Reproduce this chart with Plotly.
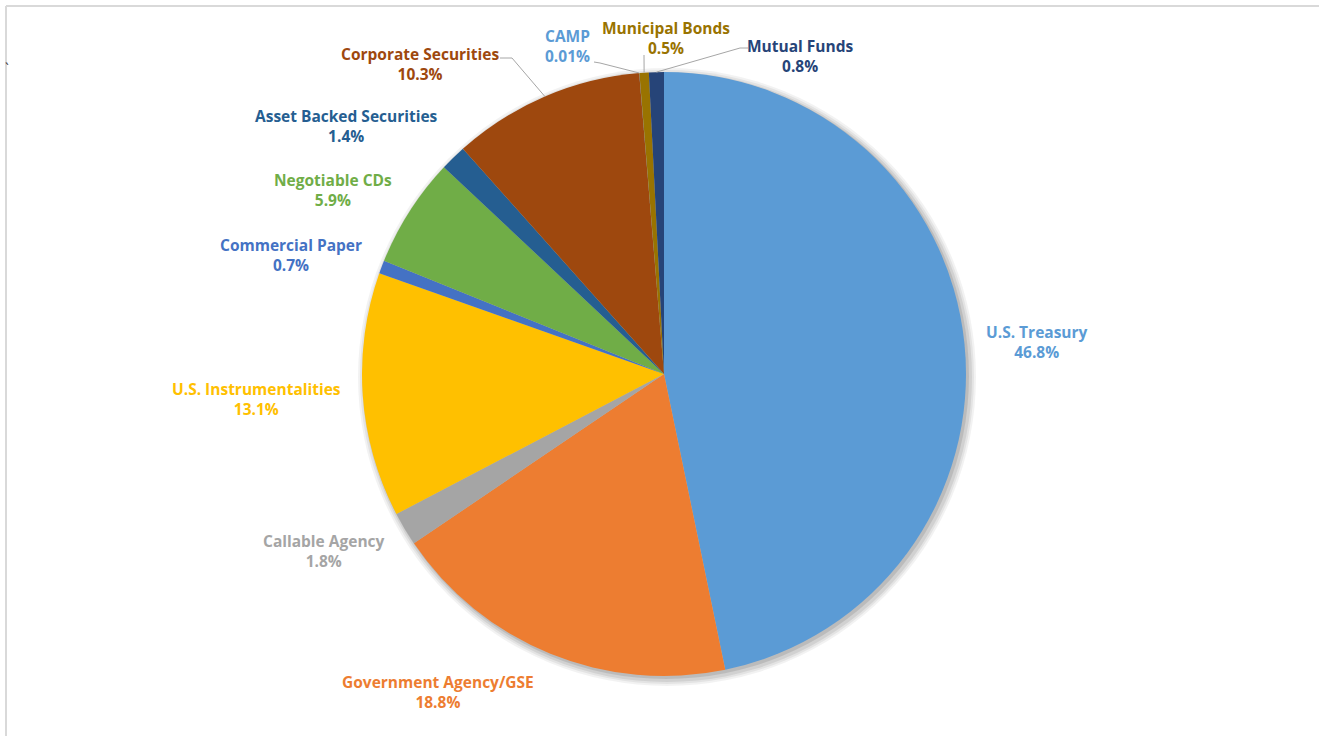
import math
import plotly.graph_objects as go

# ---- data ----
categories = ["U.S. Treasury", "Government Agency/GSE", "Callable Agency",
              "U.S. Instrumentalities", "Commercial Paper", "Negotiable CDs",
              "Asset Backed Securities", "Corporate Securities", "CAMP",
              "Municipal Bonds", "Mutual Funds"]
values = [46.8, 18.8, 1.8, 13.1, 0.7, 5.9, 1.4, 10.3, 0.01, 0.5, 0.8]
pct_labels = ["46.8%", "18.8%", "1.8%", "13.1%", "0.7%", "5.9%", "1.4%",
              "10.3%", "0.01%", "0.5%", "0.8%"]

# ---- styles / layout ----
colors = ["#5B9BD5", "#ED7D31", "#A5A5A5", "#FFC000", "#4472C4", "#70AD47",
          "#255E91", "#9E480E", "#5B9BD5", "#997300", "#264478"]
W, H = 1319, 736
CX, CY, R = 664, 374, 302
# label centre positions (px) for the label text block
label_pos = [(1037, 342), (438, 692), (324, 551), (256, 399), (291, 255),
             (333, 190), (346, 126), (420, 64), (567, 46), (666, 38), (800, 56)]
# leader line starts (px) for labels that have one: index -> list of points
leader_start = {7: [(500, 58), (512, 58)], 8: [(594, 62), (600, 63)],
                9: [(644, 55)], 10: [(748, 48), (740, 48)]}
FONT = "Open Sans"
FS = 15.5


def px(x):
    return x / W


def py(y):
    return 1 - y / H


fig = go.Figure()
fig.add_trace(go.Pie(
    labels=categories, values=values, sort=False, direction="clockwise",
    rotation=0, textinfo="none", hoverinfo="label+percent",
    marker=dict(colors=colors, line=dict(width=0)),
    domain=dict(x=[px(CX - R), px(CX + R)], y=[py(CY + R), py(CY - R)]),
    showlegend=False,
))

shapes = []
# soft shadow behind pie
for off, grow, op in [(3, 7, 0.05), (3, 5, 0.06), (3, 3, 0.08), (2, 1, 0.10)]:
    shapes.append(dict(type="circle", xref="paper", yref="paper", layer="below",
                       x0=px(CX - R - grow + off), x1=px(CX + R + grow + off),
                       y0=py(CY + R + grow + off), y1=py(CY - R - grow + off),
                       fillcolor=f"rgba(0,0,0,{op})", line=dict(width=0)))
# frame lines
shapes.append(dict(type="line", xref="paper", yref="paper", x0=px(6), x1=1,
                   y0=py(6), y1=py(6), line=dict(color="#D9D9D9", width=2)))
shapes.append(dict(type="line", xref="paper", yref="paper", x0=px(6), x1=px(6),
                   y0=py(6), y1=0, line=dict(color="#D9D9D9", width=2)))

# leader lines ending at slice mid-angle on edge (computed from data)
total = sum(values)
cum = 0
mids = []
for v in values:
    mids.append((cum + v / 2) / total * 2 * math.pi)
    cum += v
for idx, pts in leader_start.items():
    a = mids[idx]
    ex, ey = CX + R * math.sin(a), CY - R * math.cos(a)
    allp = pts + [(ex, ey)]
    path = "M " + " L ".join(f"{px(x)},{py(y)}" for x, y in allp)
    shapes.append(dict(type="path", xref="paper", yref="paper", path=path,
                       line=dict(color="#A6A6A6", width=1)))

annotations = []
for i, cat in enumerate(categories):
    x, y = label_pos[i]
    annotations.append(dict(
        x=px(x), y=py(y), xref="paper", yref="paper", showarrow=False,
        text=f"<b>{cat}</b><br><b>{pct_labels[i]}</b>", align="center",
        font=dict(family=FONT, size=FS, color=colors[i]),
        xanchor="center", yanchor="middle"))
annotations.append(dict(x=px(3), y=py(57), xref="paper", yref="paper",
                        showarrow=False, text="`", font=dict(size=14, color="#333")))

fig.update_layout(
    width=W, height=H, margin=dict(l=0, r=0, t=0, b=0),
    paper_bgcolor="white", plot_bgcolor="white",
    shapes=shapes, annotations=annotations,
)
fig.write_html("out.html", config={"displayModeBar": False},
               post_script="document.body.style.margin='0';")
